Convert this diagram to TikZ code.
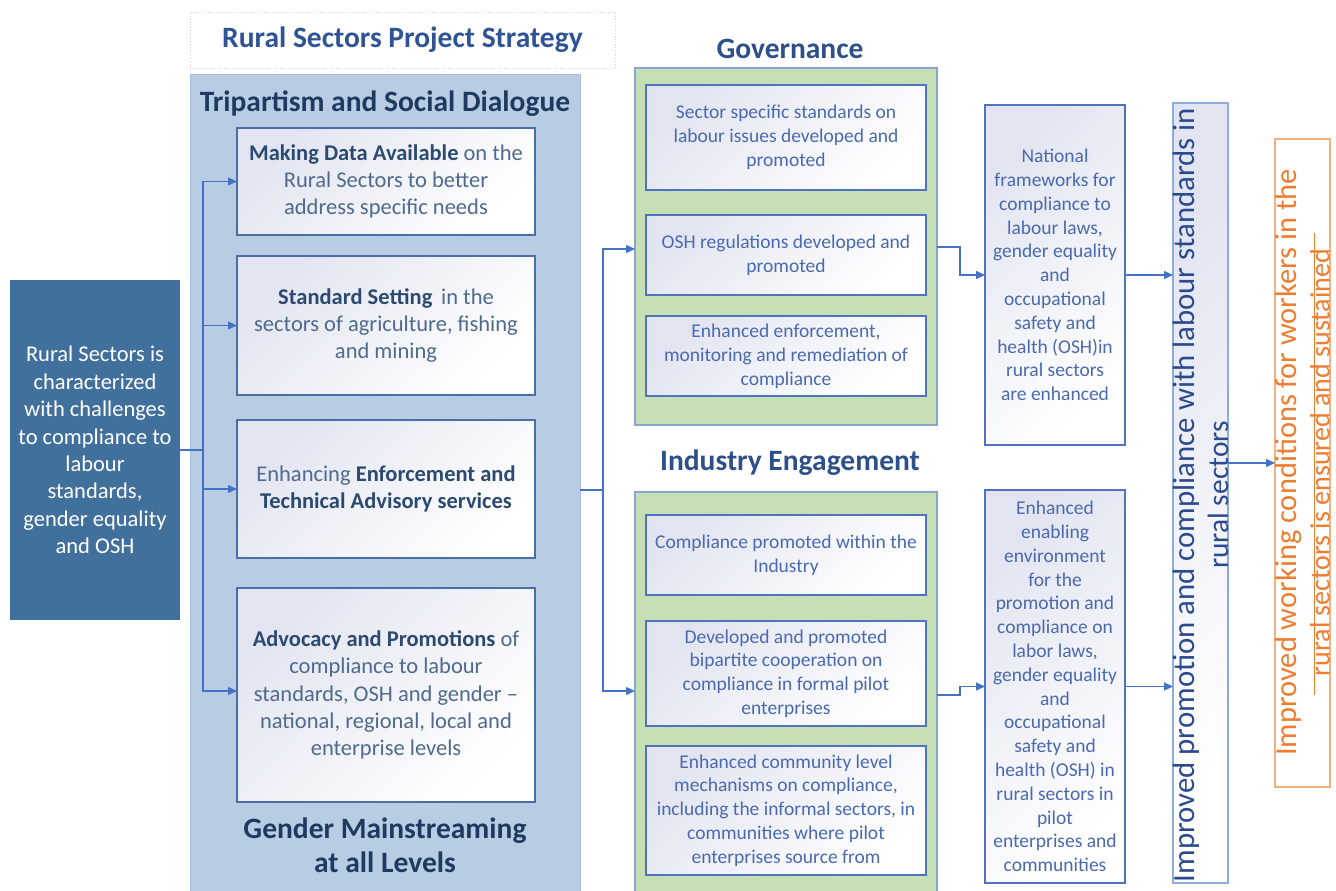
\documentclass[tikz,border=0pt]{standalone}
\usepackage{fontspec}
\setmainfont{Carlito}
\usetikzlibrary{arrows.meta,calc}
\definecolor{titleblue}{HTML}{2F5496}
\definecolor{navy}{HTML}{1F3A60}
\definecolor{headblue}{HTML}{2D4F8A}
\definecolor{panelblue}{HTML}{B8CCE4}
\definecolor{panelborder}{HTML}{A7BEDC}
\definecolor{darkbox}{HTML}{41709C}
\definecolor{greenfill}{HTML}{C6DFB4}
\definecolor{greenborder}{HTML}{89A6D2}
\definecolor{boxborder}{HTML}{4A6FA8}
\definecolor{gboxborder}{HTML}{4F73BE}
\definecolor{boxshade}{HTML}{E2E5F1}
\definecolor{linkblue}{HTML}{4472C4}
\definecolor{textblue}{HTML}{4A69B0}
\definecolor{textgray}{HTML}{4F6A8C}
\definecolor{textbold}{HTML}{2C4A70}
\definecolor{vborder}{HTML}{8FAADC}
\definecolor{vtext}{HTML}{2B4A8E}
\definecolor{orangetext}{HTML}{ED7D31}
\definecolor{orangeborder}{HTML}{F4B183}
\newcommand\myhl[1]{{\color{textbold}\bfseries #1}}
\begin{document}
\begin{tikzpicture}[x=1pt,y=-1pt,
  every node/.style={inner sep=0pt, outer sep=0pt},
  conn/.style={draw=linkblue, line width=1.2pt},
  arr/.style={conn, -{Triangle[length=9pt,width=8pt]}},
  shadebox/.style={top color=boxshade, bottom color=white, shading angle=45},
  wbox/.style={shadebox, draw=boxborder, line width=1.3pt, align=center, text=textgray, font=\fontsize{22.5}{27.3}\selectfont, minimum width=298pt},
  gbox/.style={shadebox, draw=gboxborder, line width=1.2pt, align=center, text=textblue, font=\fontsize{19.5}{23.8}\selectfont, minimum width=280pt},
  obox/.style={shadebox, draw=gboxborder, line width=1.2pt, align=center, text=textblue, font=\fontsize{19.5}{23.8}\selectfont, minimum width=140pt},
  greenbox/.style={fill=greenfill, draw=greenborder, line width=1.2pt, minimum width=302pt},
  head/.style={font=\bfseries\fontsize{29.5}{34}\selectfont, align=center},
]
\useasboundingbox (0,0) rectangle (1336,891);
\clip (0,0) rectangle (1336,891);
\fill[white] (0,0) rectangle (1336,891);

% title
\node[draw=gray!35, dotted, line width=0.8pt, minimum width=425pt, minimum height=56pt, text=titleblue, head] (title) at (402.5,40) {Rural Sectors Project Strategy};

% left panel
\node[fill=panelblue, draw=panelborder, line width=1pt, minimum width=390pt, minimum height=830pt, anchor=north west] (panel) at (190,75) {};
\node[head, text=navy] (trip) at (385,104) {Tripartism and Social Dialogue};
\node[head, text=navy] (gm) at (385,845) {Gender Mainstreaming\\at all Levels};

\node[wbox, minimum height=107pt] (b1) at (386,181.5) {\myhl{Making Data Available} on the\\Rural Sectors to better\\address specific needs};
\node[wbox, minimum height=139pt] (b2) at (386,325.5) {\myhl{Standard Setting}\, in the\\sectors of agriculture, fishing\\and mining};
\node[wbox, minimum height=138pt] (b3) at (386,489) {Enhancing \myhl{Enforcement and}\\\myhl{Technical Advisory services}};
\node[wbox, minimum height=214pt] (b4) at (386,695) {\myhl{Advocacy and Promotions} of\\compliance to labour\\standards, OSH and gender --\\national, regional, local and\\enterprise levels};

% left dark box
\node[fill=darkbox, minimum width=170pt, minimum height=340pt, text=white, align=center, font=\fontsize{22.5}{27.4}\selectfont] (lb) at (95,450) {Rural Sectors is\\characterized\\with challenges\\to compliance to\\labour\\standards,\\gender equality\\and OSH};

% green boxes
\node[head, text=headblue] (govh) at (790,49) {Governance};
\node[greenbox, minimum height=357pt] (gov) at (786,246.5) {};
\node[head, text=headblue] (indh) at (790,463) {Industry Engagement};
\node[greenbox, minimum height=420pt, anchor=north west] (ind) at (635,492) {};

\node[gbox, minimum height=105pt] (g1) at (786,137.5) {Sector specific standards on\\labour issues developed and\\promoted};
\node[gbox, minimum height=80pt] (g2) at (786,255) {OSH regulations developed and\\promoted};
\node[gbox, minimum height=80pt] (g3) at (786,356) {Enhanced enforcement,\\monitoring and remediation of\\compliance};
\node[gbox, minimum height=80pt] (i1) at (786,555) {Compliance promoted within the\\Industry};
\node[gbox, minimum height=105pt] (i2) at (786,673.5) {Developed and promoted\\bipartite cooperation on\\compliance in formal pilot\\enterprises};
\node[gbox, minimum height=129pt] (i3) at (786,810.5) {Enhanced community level\\mechanisms on compliance,\\including the informal sectors, in\\communities where pilot\\enterprises source from};

% outcome boxes
\node[obox, minimum height=340pt] (o1) at (1055,275) {National\\frameworks for\\compliance to\\labour laws,\\gender equality\\and\\occupational\\safety and\\health (OSH)in\\rural sectors\\are enhanced};
\node[obox, minimum height=393pt] (o2) at (1055,686.5) {Enhanced\\enabling\\environment\\for the\\promotion and\\compliance on\\labor laws,\\gender equality\\and\\occupational\\safety and\\health (OSH) in\\rural sectors in\\pilot\\enterprises and\\communities};

% vertical result box
\node[shadebox, draw=vborder, line width=1.3pt, minimum width=55pt, minimum height=780pt] (vb) at (1200.5,493) {};
\node[rotate=90, align=center, text=vtext, font=\fontsize{30}{34}\selectfont] (vt) at (1200.5,495) {{\fontsize{30.8}{34}\selectfont Improved promotion and compliance with labour standards in}\\{\fontsize{29.4}{34}\selectfont rural sectors}};

% orange goal box
\node[draw=orangeborder, line width=1.2pt, minimum width=55pt, minimum height=648pt] (ob) at (1302.5,463) {};
\node[rotate=90, align=center, text=orangetext, font=\fontsize{29}{33}\selectfont] (ot) at (1302.5,462.5) {{\fontsize{30.5}{33}\selectfont Improved working conditions for workers in the}\\{\fontsize{28}{33}\selectfont rural sectors is ensured and sustained}};
\draw[orangetext, line width=1pt] ($(ob.center)+(12,-230)$) -- ($(ob.center)+(12,232)$);

% connectors left
\coordinate (s1) at (203,450);
\draw[conn] (lb.east |- s1) -- (s1);
\draw[conn] (203,182) -- (203,691);
\draw[arr] (s1) |- (b1.west);
\draw[arr] (s1) |- (b2.west);
\draw[arr] (s1) |- (b3.west);
\draw[arr] (s1) |- ($(b4.west)+(0,-4)$);

% connectors middle
\coordinate (s2) at (603,490);
\draw[conn] (panel.east |- s2) -- (s2);
\draw[arr] (s2) |- (gov.west |- 0,249);
\draw[arr] (s2) |- (ind.west |- 0,691);

% connectors to outcomes
\coordinate (k1) at (960,247);
\draw[arr] (gov.east |- k1) -- (k1) |- (o1.west);
\coordinate (k2) at (960,695);
\draw[arr] (ind.east |- k2) -- (k2) |- (o2.west);

% to vertical box and goal
\draw[arr] (o1.east) -- (vb.west |- o1.east);
\draw[arr] (o2.east) -- (vb.west |- o2.east);
\draw[arr] (vb.east |- ob.west) -- (ob.west);
\end{tikzpicture}
\end{document}
